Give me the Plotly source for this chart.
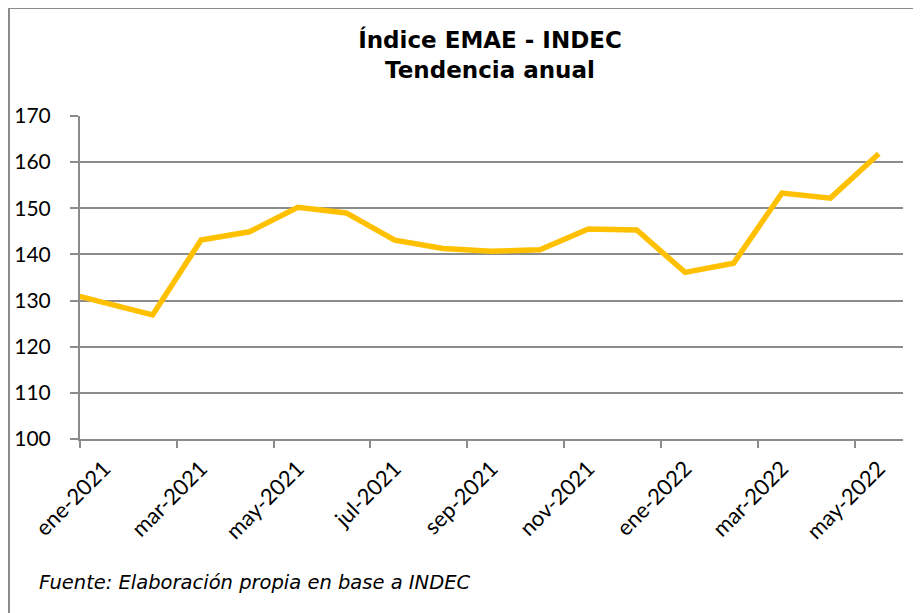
import plotly.graph_objects as go

# Data
meses = ["dic-2020", "ene-2021", "feb-2021", "mar-2021", "abr-2021", "may-2021", "jun-2021",
         "jul-2021", "ago-2021", "sep-2021", "oct-2021", "nov-2021", "dic-2021",
         "ene-2022", "feb-2022", "mar-2022", "abr-2022", "may-2022"]
valores = [132.2, 129.4, 126.9, 143.1, 144.9, 150.2, 149.0,
           143.1, 141.3, 140.7, 141.0, 145.5, 145.3,
           136.1, 138.1, 153.3, 152.2, 161.8]

# category positions: ene-2021 = 0
pos = list(range(-1, len(meses) - 1))
label_pos = [p for p in pos if p >= 0 and p % 2 == 0]
label_txt = [meses[p + 1] for p in label_pos]

GRID = "#8c8c8c"

# The page body has an 8px margin, so the figure is laid out in its own coordinates
W, H = 913, 605
L, T, PW, PH = 72, 108, 823, 323
B = H - T - PH
R = W - L - PW


def px(xf):
    return (xf - L) / PW


def py(yf):
    return (T + PH - yf) / PH


fig = go.Figure()
fig.add_trace(go.Scatter(
    x=pos, y=valores, mode="lines",
    line=dict(color="#FFC000", width=5.5, shape="linear"),
    hoverinfo="text", text=[f"{m}: {v}" for m, v in zip(meses, valores)],
    showlegend=False,
))

fig.update_layout(
    width=W, height=H,
    margin=dict(l=L, r=R, t=T, b=B, autoexpand=False),
    paper_bgcolor="white", plot_bgcolor="white",
    title=dict(
        text="<b>Índice EMAE - INDEC</b><br><b>Tendencia anual</b>",
        xref="container", yref="container",
        x=482 / W, xanchor="center", y=1 - 40 / H, yanchor="middle",
        font=dict(family="DejaVu Sans", size=23, color="black"),
    ),
    xaxis=dict(
        range=[-0.5, len(meses) - 1.5],
        tickmode="array", tickvals=label_pos, ticktext=label_txt,
        tickangle=-45, ticks="", ticklabelstandoff=6,
        tickfont=dict(family="Lato, Carlito, Calibri", size=22, color="black"),
        showgrid=False, zeroline=False,
        showline=True, linecolor=GRID, linewidth=2,
        minor=dict(tick0=-0.5, dtick=2, ticks="outside", ticklen=7,
                   tickcolor=GRID, tickwidth=2, showgrid=False),
    ),
    yaxis=dict(
        range=[100, 170], dtick=10, tick0=100,
        ticks="outside", ticklen=8, tickcolor=GRID, tickwidth=2,
        ticklabelstandoff=15,
        tickfont=dict(family="Lato, Carlito, Calibri", size=21, color="black"),
        showgrid=True, gridcolor=GRID, gridwidth=2,
        zeroline=False, showline=True, linecolor=GRID, linewidth=2,
    ),
    annotations=[dict(
        text="<i>Fuente: Elaboración propia en base a INDEC</i>",
        xref="paper", yref="paper",
        x=px(29), y=py(574),
        xanchor="left", yanchor="middle", showarrow=False,
        font=dict(family="DejaVu Sans", size=19.5, color="black"),
    )],
    shapes=[
        # outer frame: left and top edges
        dict(type="line", xref="paper", yref="paper",
             x0=px(1), x1=px(1), y0=py(0), y1=py(H + 5),
             line=dict(color="#8c8c8c", width=2)),
        dict(type="line", xref="paper", yref="paper",
             x0=px(1), x1=px(W + 5), y0=py(0), y1=py(0),
             line=dict(color="#8c8c8c", width=2)),
    ],
)

fig.write_html("out.html")
